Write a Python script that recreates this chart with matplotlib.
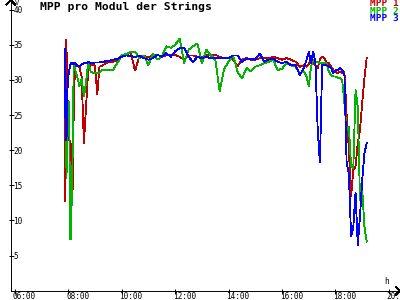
import matplotlib
matplotlib.use("Agg")
import matplotlib.pyplot as plt
from matplotlib.ticker import FixedLocator
from matplotlib.transforms import ScaledTranslation
from matplotlib.lines import Line2D

plt.rcParams['font.family'] = ['DejaVu Sans Mono']

times = ["07:52", "07:54", "07:56", "07:58", "08:00", "08:02", "08:04", "08:06", "08:08", "08:10", "08:12", "08:15",
         "08:20", "08:25", "08:30", "08:35", "08:40", "08:45", "08:50", "08:55", "09:00", "09:05", "09:10", "09:15",
         "09:20", "09:25", "09:30",
         "09:40", "09:50", "10:00", "10:10", "10:20", "10:30", "10:40", "10:50", "11:00", "11:10", "11:20", "11:30",
         "11:40", "11:50", "12:00", "12:10", "12:20", "12:30", "12:40", "12:50", "13:00", "13:10", "13:20", "13:30",
         "13:40", "13:50", "14:00", "14:10", "14:20", "14:30", "14:40", "14:50", "15:00", "15:10", "15:20", "15:30",
         "15:40", "15:50", "16:00", "16:10", "16:20", "16:30", "16:40", "16:50",
         "16:55", "17:00", "17:05", "17:10", "17:15", "17:20", "17:25", "17:30", "17:35", "17:40", "17:45", "17:50",
         "17:55", "18:00", "18:05", "18:10", "18:15", "18:20", "18:25", "18:30", "18:35", "18:40", "18:45", "18:50",
         "18:55", "19:00", "19:05", "19:10"]

mpp1 = [12.7, 35.7, 35.0, 20.0, 27.0, 26.9, 14.4, 16.0, 21.0, 14.4, 25.0, 32.2,
        32.0, 31.8, 30.5, 21.0, 26.4, 31.7, 32.1, 32.2, 32.0, 27.9, 31.9, 32.0,
        32.2, 32.4, 32.5,
        32.6, 32.8, 33.5, 33.6, 33.9, 31.3, 33.5, 33.4, 33.3, 33.4, 33.6, 33.3,
        33.5, 33.5, 33.6, 33.3, 32.9, 33.5, 33.5, 33.3, 33.3, 33.5, 33.6, 33.6,
        33.3, 33.1, 33.1, 32.9, 32.0, 32.9, 33.1, 32.9, 32.9, 33.1, 33.1, 33.1,
        33.3, 33.1, 32.9, 33.1, 32.9, 32.6, 31.9, 32.1,
        31.9, 32.2, 33.1, 32.4, 32.1, 31.7, 32.9, 33.3, 33.1, 32.4, 32.4, 31.9,
        31.4, 31.2, 31.0, 31.2, 31.0, 31.2, 25.0, 20.1, 13.4, 17.2, 17.7, 21.0,
        22.9, 26.7, 30.3, 33.1]

mpp2 = [30.0, 28.6, 16.0, 27.5, 22.0, 27.0, 7.4, 7.4, 14.4, 20.0, 32.3, 31.5,
        30.5, 29.1, 30.2, 27.6, 29.8, 32.6, 31.2, 31.0, 31.0, 31.0, 31.0, 31.4,
        31.4, 31.4, 31.4,
        31.4, 32.4, 33.5, 33.7, 34.0, 34.0, 33.1, 33.5, 32.1, 33.8, 32.9, 33.3,
        34.8, 34.6, 35.0, 35.9, 32.4, 34.3, 34.8, 35.2, 32.4, 34.3, 33.5, 32.9,
        28.4, 31.6, 32.6, 33.5, 31.2, 30.2, 31.7, 31.2, 31.9, 32.1, 32.4, 32.6,
        32.9, 31.4, 31.6, 32.4, 32.1, 31.9, 31.0, 31.2,
        30.5, 29.1, 31.9, 32.9, 32.6, 32.6, 32.4, 32.4, 32.4, 32.4, 31.2, 30.7,
        30.5, 30.5, 30.3, 30.3, 30.0, 26.7, 22.9, 23.4, 17.7, 17.5, 28.6, 26.2,
        12.9, 14.4, 9.1, 7.0]

mpp3 = [34.4, 21.5, 21.5, 28.6, 30.5, 31.3, 32.1, 32.4, 32.5, 32.5, 32.2, 32.5,
        32.0, 32.0, 32.2, 32.4, 32.4, 32.6, 32.4, 32.4, 32.5, 32.5, 32.5, 32.6,
        32.6, 32.7, 32.7,
        32.9, 33.0, 33.3, 33.5, 33.4, 33.3, 33.4, 33.1, 32.9, 33.1, 33.6, 33.3,
        33.8, 33.3, 34.1, 34.5, 34.6, 33.3, 32.6, 33.3, 33.1, 33.3, 33.1, 33.1,
        33.1, 33.1, 33.1, 33.5, 33.5, 32.6, 33.0, 33.0, 32.9, 33.8, 32.6, 32.9,
        33.0, 32.6, 32.4, 32.6, 32.1, 32.1, 30.7, 31.9,
        32.9, 34.0, 32.4, 34.0, 32.4, 22.9, 18.2, 32.1, 32.1, 32.1, 31.9, 31.7,
        31.0, 31.4, 31.4, 31.7, 31.4, 30.7, 18.2, 16.7, 7.7, 9.1, 14.0, 6.5,
        10.6, 15.8, 19.6, 21.0]

series_names = ["MPP 1", "MPP 2", "MPP 3"]
series_colors = ["#c00000", "#00b400", "#0000ff"]
y_ticks = [5, 10, 15, 20, 25, 30, 35, 40]
x_tick_hours = [6, 8, 10, 12, 14, 16, 18, 20]
x_tick_labels = ["06:00", "08:00", "10:00", "12:00", "14:00", "16:00", "18:00", "20:00"]
title = "MPP pro Modul der Strings"
y_unit = "V"
x_unit = "h"


def to_hours(s):
    h, m = s.split(":")
    return int(h) + int(m) / 60.0


W, H = 400, 300
fig = plt.figure(figsize=(4, 3), dpi=100)
fig.patch.set_facecolor("white")


def fx(px):
    return px / W


def fy(py):
    return 1 - py / H


ax = fig.add_axes([fx(10.7), fy(290.7), fx(400) - fx(10.7), fy(0) - fy(290.7)])
ax.set_facecolor("white")

x = [to_hours(t) for t in times]
for vals, c in zip([mpp1, mpp2, mpp3], series_colors):
    ax.plot(x, vals, color=c, lw=0.6, antialiased=False, solid_joinstyle="miter")

ax.set_xlim(5.844, 20.414)
ax.set_ylim(0, 41.39)

for s in ["top", "right"]:
    ax.spines[s].set_visible(False)
for s in ["left", "bottom"]:
    ax.spines[s].set_linewidth(0.7)
    ax.spines[s].set_color("black")

ax.xaxis.set_major_locator(FixedLocator(x_tick_hours))
ax.set_xticklabels(x_tick_labels)
ax.yaxis.set_major_locator(FixedLocator(y_ticks))
ax.set_yticklabels([str(v) for v in y_ticks])

ax.tick_params(axis="both", direction="inout", length=3.6, width=0.7, colors="black", labelsize=5.6)
ax.tick_params(axis="x", pad=-0.8)
ax.tick_params(axis="y", pad=-3.67)

for lab in ax.get_xticklabels():
    lab.set_horizontalalignment("left")
    lab.set_transform(lab.get_transform() + ScaledTranslation(-2.3 / 100, 0, fig.dpi_scale_trans))
for lab in ax.get_yticklabels():
    lab.set_horizontalalignment("left")

# axis arrows
fig.add_artist(Line2D([fx(6.5), fx(10.7), fx(14.9)], [fy(4.5), fy(0.3), fy(4.5)],
                      color="black", lw=0.7, antialiased=False))
fig.add_artist(Line2D([fx(396), fx(399.7), fx(396)], [fy(286.9), fy(290.7), fy(294.5)],
                      color="black", lw=0.7, antialiased=False))

fig.text(fx(14.5), fy(3.2), y_unit, fontsize=5.0, ha="left", va="center", color="black")
fig.text(fx(387), fy(281), x_unit, fontsize=5.6, ha="center", va="center", color="black")

fig.text(fx(40), fy(7.0), title, fontsize=8.2, fontweight="bold", ha="left", va="center", color="black")

for i, (name, c) in enumerate(zip(series_names, series_colors)):
    fig.text(fx(399), fy(4.0 + 7.4 * i), name, fontsize=6.8, fontweight="bold",
             ha="right", va="center", color=c)

fig.savefig("out.png", dpi=100, facecolor="white")
